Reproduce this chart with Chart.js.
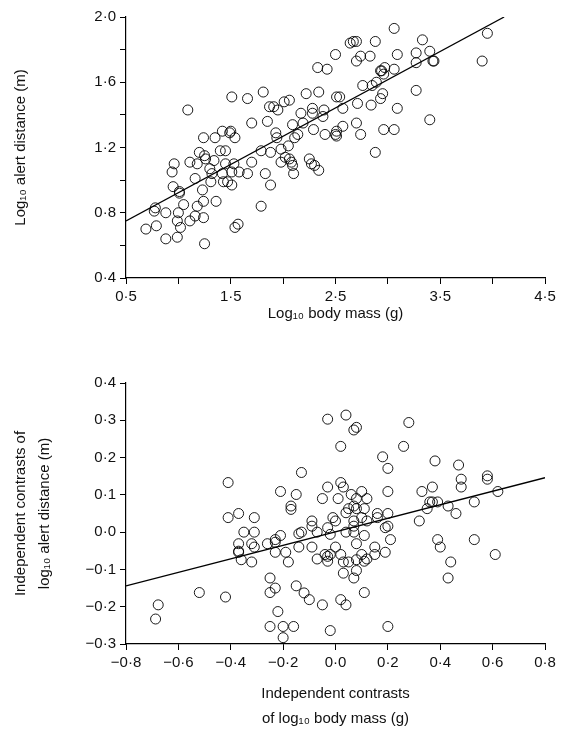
<!DOCTYPE html>
<html>
<head>
<meta charset="utf-8">
<script src="https://cdn.jsdelivr.net/npm/chart.js@4/dist/chart.umd.min.js"></script>
<style>
  body { margin: 0; background: #fff; }
  .box { position: absolute; left: 0; width: 574px; }
</style>
</head>
<body>
<div class="box" style="top:0;height:350px"><canvas id="top"></canvas></div>
<div class="box" style="top:350px;height:383px"><canvas id="bottom"></canvas></div>
<script>
// top panel: log body mass vs log alert distance
const massX = [0.69,0.79,0.77,0.78,0.88,0.88,0.99,1.0,0.99,1.02,1.01,1.01,0.95,0.94,0.96,1.05,1.09,1.11,1.11,1.16,1.18,1.16,1.20,1.18,1.24,1.25,1.26,1.23,1.24,1.24,1.25,1.30,1.32,1.34,1.31,1.35,1.36,1.42,1.40,1.45,1.42,1.43,1.47,1.51,1.45,1.49,1.50,1.54,1.51,1.53,1.58,1.51,1.66,1.70,1.66,1.70,1.54,1.57,1.79,1.81,1.79,1.83,1.88,1.88,1.85,1.87,1.91,1.95,1.93,1.94,1.98,1.98,2.01,2.06,2.02,2.05,2.06,2.08,2.09,2.10,2.09,2.11,2.14,2.17,2.19,2.22,2.25,2.27,2.30,2.34,2.28,2.28,2.29,2.34,2.33,2.39,2.38,2.42,2.40,2.50,2.50,2.51,2.51,2.51,2.54,2.57,2.57,2.64,2.67,2.70,2.70,2.74,2.83,2.88,2.76,2.71,2.70,2.74,2.84,2.85,2.89,2.93,2.94,2.96,2.97,2.93,2.95,2.96,2.88,3.06,3.06,3.09,3.09,3.06,3.27,3.27,3.27,3.33,3.40,3.43,3.44,3.40,3.90,3.95];
const alertY = [0.70,0.72,0.81,0.83,0.80,0.64,0.65,0.80,0.75,0.71,0.93,0.92,0.96,1.05,1.10,0.85,1.43,1.11,0.75,0.78,0.84,1.01,1.17,1.10,1.26,1.15,1.13,0.94,0.87,0.77,0.61,1.07,1.04,1.12,0.99,1.26,0.87,1.30,1.18,1.18,1.04,0.99,0.99,0.97,1.10,1.29,1.30,1.26,1.05,1.10,1.05,1.51,1.50,1.11,1.04,1.35,0.71,0.73,0.84,1.54,1.18,1.04,1.17,0.97,1.36,1.45,1.45,1.43,1.29,1.26,1.19,1.11,1.48,1.49,1.14,1.21,1.13,1.11,1.09,1.04,1.34,1.26,1.28,1.41,1.35,1.53,1.13,1.10,1.09,1.06,1.44,1.41,1.31,1.54,1.69,1.43,1.39,1.68,1.28,1.77,1.28,1.27,1.30,1.51,1.51,1.33,1.44,1.84,1.85,1.85,1.73,1.76,1.76,1.85,1.58,1.47,1.35,1.28,1.46,1.58,1.60,1.67,1.67,1.65,1.69,1.50,1.53,1.31,1.17,1.68,1.93,1.77,1.44,1.31,1.78,1.72,1.55,1.86,1.79,1.73,1.73,1.37,1.73,1.90];
const fitTopX = [0.5, 4.11];
const fitTopY = [0.75, 2.0];

// bottom panel: independent contrasts
const contrastX = [-0.687,-0.677,-0.52,-0.42,-0.41,-0.41,-0.37,-0.35,-0.37,-0.37,-0.37,-0.36,-0.32,-0.31,-0.31,-0.31,-0.32,-0.26,-0.25,-0.25,-0.23,-0.22,-0.25,-0.20,-0.16,-0.20,-0.23,-0.23,-0.23,-0.21,-0.19,-0.21,-0.17,-0.17,-0.18,-0.15,-0.14,-0.13,-0.14,-0.15,-0.12,-0.10,-0.13,-0.09,-0.09,-0.09,-0.07,-0.07,-0.05,-0.05,-0.04,-0.03,-0.02,-0.03,-0.02,-0.03,-0.03,-0.03,-0.02,-0.01,0.0,0.0,0.01,0.02,0.02,0.03,0.02,0.03,0.03,0.02,0.04,0.04,0.04,0.04,0.05,0.05,0.06,0.07,0.07,0.07,0.07,0.07,0.07,0.08,0.08,0.08,0.08,0.08,0.08,0.10,0.10,0.10,0.11,0.11,0.11,0.11,0.12,0.12,0.12,0.15,0.15,0.16,0.16,0.18,0.19,0.19,0.20,0.20,0.20,0.20,0.21,0.20,0.26,0.28,0.32,0.33,0.35,0.36,0.37,0.38,0.37,0.39,0.39,0.40,0.43,0.43,0.44,0.46,0.47,0.48,0.48,0.53,0.53,0.58,0.58,0.61,0.62];
const contrastY = [-0.233,-0.195,-0.162,-0.174,0.133,0.039,0.05,0.0,-0.031,-0.051,-0.054,-0.074,-0.031,-0.04,0.0,0.039,-0.08,-0.031,-0.123,-0.162,-0.15,-0.213,-0.253,-0.253,-0.253,-0.283,-0.027,-0.02,-0.054,-0.009,-0.054,0.109,0.07,0.061,-0.08,0.101,-0.004,0.0,-0.04,-0.144,-0.163,-0.181,0.16,0.03,0.016,-0.04,-0.072,0.0,-0.195,0.09,-0.06,-0.065,-0.06,-0.078,-0.264,0.303,0.121,0.012,-0.006,0.039,0.03,-0.04,0.09,0.23,0.133,0.121,-0.06,-0.08,-0.11,-0.181,-0.195,0.314,0.0,0.052,0.063,-0.08,0.101,0.07,0.03,0.016,0.0,-0.123,0.274,0.281,0.09,0.063,-0.031,-0.074,-0.103,0.109,0.039,-0.06,0.063,-0.009,-0.078,-0.162,0.09,0.03,-0.072,-0.04,-0.06,0.05,0.039,0.202,0.012,-0.054,0.171,0.109,0.05,0.016,-0.02,-0.253,0.23,0.294,0.03,0.109,0.063,0.081,0.121,0.191,0.081,0.081,-0.02,-0.04,0.07,-0.123,-0.08,0.05,0.18,0.142,0.121,0.081,-0.02,0.151,0.142,-0.06,0.109];
const fitBottomX = [-0.8, 0.8];
const fitBottomY = [-0.144, 0.146];

const FONT = { family: 'Liberation Sans, Arial, sans-serif', size: 15 };
const TITLE_FONT = { family: 'Liberation Sans, Arial, sans-serif', size: 15, lineHeight: 1.65 };
Chart.defaults.color = '#111';

const dot = v => {
    const s = (Math.round(v * 10) / 10).toFixed(1);
    return s.replace('.', '·').replace('-', '−');
};

function pairs(xs, ys) {
    return xs.map((x, i) => ({ x: x, y: ys[i] }));
}

function axis(min, max, step, labelEvery, title, width, height) {
    const a = {
        type: 'linear', min: min, max: max,
        ticks: {
            stepSize: step, font: FONT, padding: 4, autoSkip: false, maxRotation: 0,
            callback: v => {
                const k = Math.round((v - min) / step);
                return k % labelEvery === 0 ? dot(v) : '';
            }
        },
        grid: { drawOnChartArea: false, drawTicks: true, tickLength: 6, color: '#000' },
        border: { color: '#000', width: 1.2 },
        title: { display: true, text: title, font: TITLE_FONT, padding: { top: 8, bottom: 2 } }
    };
    if (width) a.afterFit = s => { s.width = width; };
    if (height) a.afterFit = s => { s.height = height; };
    return a;
}

function makeChart(id, pts, fitX, fitY, xAxis, yAxis, pad) {
    return new Chart(document.getElementById(id), {
        type: 'scatter',
        data: {
            datasets: [{
                data: pts,
                pointStyle: 'circle',
                pointRadius: 5,
                pointBorderColor: '#000',
                pointBorderWidth: 0.9,
                pointBackgroundColor: 'rgba(0,0,0,0)'
            }, {
                type: 'line',
                data: pairs(fitX, fitY),
                borderColor: '#000',
                borderWidth: 1.3,
                pointRadius: 0,
                fill: false
            }]
        },
        options: {
            responsive: true,
            maintainAspectRatio: false,
            animation: false,
            layout: { padding: pad },
            plugins: { legend: { display: false }, tooltip: { enabled: false } },
            scales: { x: xAxis, y: yAxis }
        }
    });
}

makeChart('top', pairs(massX, alertY), fitTopX, fitTopY,
    axis(0.5, 4.5, 0.5, 2, 'Log₁₀ body mass (g)', null, 50),
    axis(0.4, 2.0, 0.2, 2, 'Log₁₀ alert distance (m)', 126, null),
    { top: 17, right: 29, bottom: 22 });

makeChart('bottom', pairs(contrastX, contrastY), fitBottomX, fitBottomY,
    axis(-0.8, 0.8, 0.2, 1, ['Independent contrasts', 'of log₁₀ body mass (g)'], null, 89),
    axis(-0.3, 0.4, 0.1, 1, ['Independent contrasts of', 'log₁₀ alert distance (m)'], 126, null),
    { top: 33, right: 29 });
</script>
</body>
</html>
